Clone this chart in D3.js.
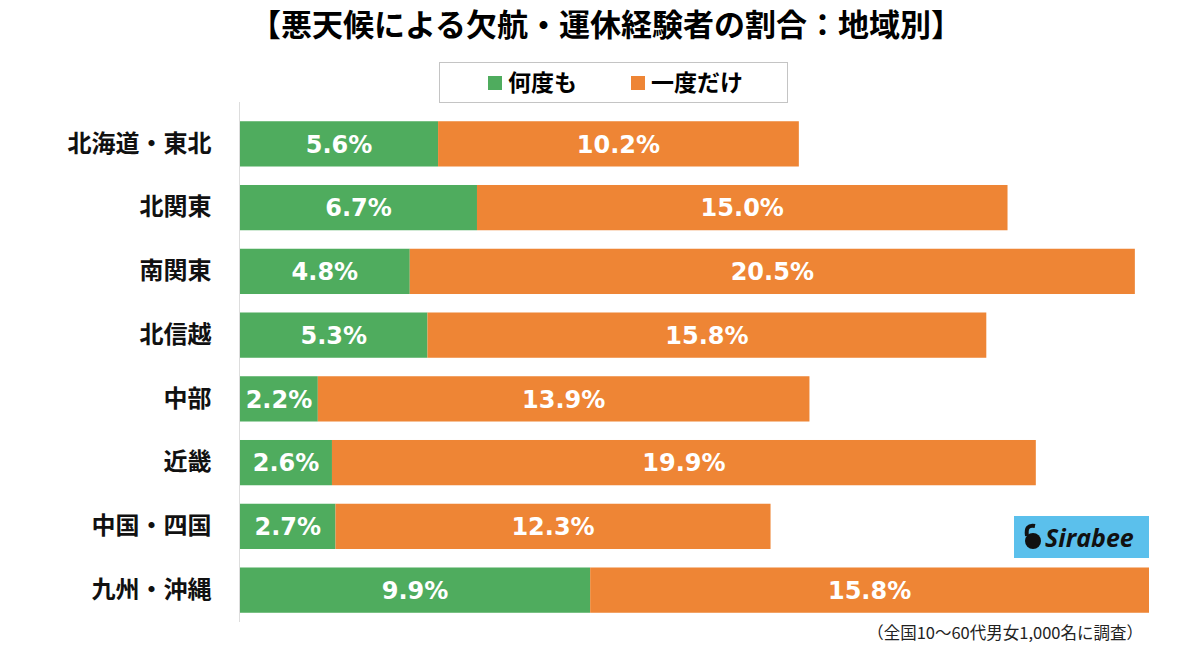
<!DOCTYPE html>
<html>
<head>
<meta charset="utf-8">
<script src="https://cdn.jsdelivr.net/npm/d3@7"></script>
<style>
  body { margin: 0; background: #fff; }
  svg { display: block; font-family: "Noto Sans CJK JP", "Noto Sans", sans-serif; }
</style>
</head>
<body>
<div id="chart"></div>
<script>
// data
var regions = ["北海道・東北", "北関東", "南関東", "北信越", "中部", "近畿", "中国・四国", "九州・沖縄"];
var manyTimes = [5.6, 6.7, 4.8, 5.3, 2.2, 2.6, 2.7, 9.9];
var onceOnly = [10.2, 15.0, 20.5, 15.8, 13.9, 19.9, 12.3, 15.8];
var seriesNames = ["何度も", "一度だけ"];
var colors = ["#4fac5e", "#ee8535"];

var W = 1200, H = 651;

var svg = d3.select("#chart").append("svg")
    .attr("width", W)
    .attr("height", H);

// title
svg.append("text")
    .attr("x", 606).attr("y", 36)
    .attr("text-anchor", "middle")
    .style("font-size", "31px").style("font-weight", "bold")
    .text("【悪天候による欠航・運休経験者の割合：地域別】");

// legend
var legend = svg.append("g");
legend.append("rect")
    .attr("x", 439.5).attr("y", 62.5).attr("width", 348).attr("height", 40)
    .attr("fill", "none").attr("stroke", "#888").attr("stroke-dasharray", "1,1");
var legX = [488, 631];
seriesNames.forEach(function(n, i) {
  legend.append("rect")
      .attr("x", legX[i]).attr("y", 76).attr("width", 14).attr("height", 14)
      .attr("fill", colors[i]);
  legend.append("text")
      .attr("x", legX[i] + 20).attr("y", 91)
      .style("font-size", "23px").style("font-weight", "bold")
      .text(n);
});

// scales
var x = d3.scaleLinear().domain([0, 25.7]).range([240, 1149]);
var y = d3.scaleBand().domain(regions).range([112, 622]).paddingInner(0.29).paddingOuter(0.145);

// stacked data
var stackData = regions.map(function(r, i) {
  return {region: r, a: manyTimes[i], b: onceOnly[i]};
});
var series = d3.stack().keys(["a", "b"])(stackData);

var groups = svg.selectAll("g.series")
    .data(series)
  .enter().append("g")
    .attr("class", "series")
    .attr("fill", function(d, i) { return colors[i]; });

groups.selectAll("rect")
    .data(function(d) { return d; })
  .enter().append("rect")
    .attr("x", function(d) { return x(d[0]); })
    .attr("y", function(d) { return y(d.data.region); })
    .attr("width", function(d) { return x(d[1]) - x(d[0]); })
    .attr("height", y.bandwidth());

groups.selectAll("text")
    .data(function(d) { return d; })
  .enter().append("text")
    .attr("x", function(d) { return (x(d[0]) + x(d[1])) / 2; })
    .attr("y", function(d) { return y(d.data.region) + y.bandwidth() / 2; })
    .attr("dy", "0.36em")
    .attr("text-anchor", "middle")
    .attr("fill", "#fff")
    .style("font-family", "'DejaVu Sans', sans-serif")
    .style("font-size", "24px").style("font-weight", "bold")
    .text(function(d) { return (d[1] - d[0]).toFixed(1) + "%"; });

// category axis
var yAxis = svg.append("g")
    .attr("transform", "translate(239.5,0)")
    .call(d3.axisLeft(y).tickSize(0).tickPadding(28));
yAxis.select(".domain").attr("stroke", "#ddd").attr("d", "M0,102V622");
yAxis.selectAll("text")
    .attr("fill", "#111")
    .style("font-family", "'Noto Sans CJK JP', sans-serif")
    .style("font-size", "24px").style("font-weight", "bold");

// logo
var logo = svg.append("g").attr("transform", "translate(1014,516)");
logo.append("rect").attr("width", 135).attr("height", 42).attr("fill", "#5bc0ec");
logo.append("circle").attr("cx", 19).attr("cy", 25).attr("r", 8).attr("fill", "#111");
logo.append("path").attr("d", "M13,20 Q11,8 21,10").attr("fill", "none").attr("stroke", "#111").attr("stroke-width", 4);
logo.append("text")
    .attr("x", 31).attr("y", 31)
    .style("font-family", "'Open Sans', sans-serif")
    .style("font-size", "25px").style("font-weight", "bold").style("font-style", "italic")
    .attr("fill", "#111")
    .text("Sirabee");

// footnote
svg.append("text")
    .attr("x", 1143).attr("y", 639)
    .attr("text-anchor", "end")
    .style("font-size", "16.5px")
    .attr("fill", "#222")
    .text("（全国10〜60代男女1,000名に調査）");
</script>
</body>
</html>
